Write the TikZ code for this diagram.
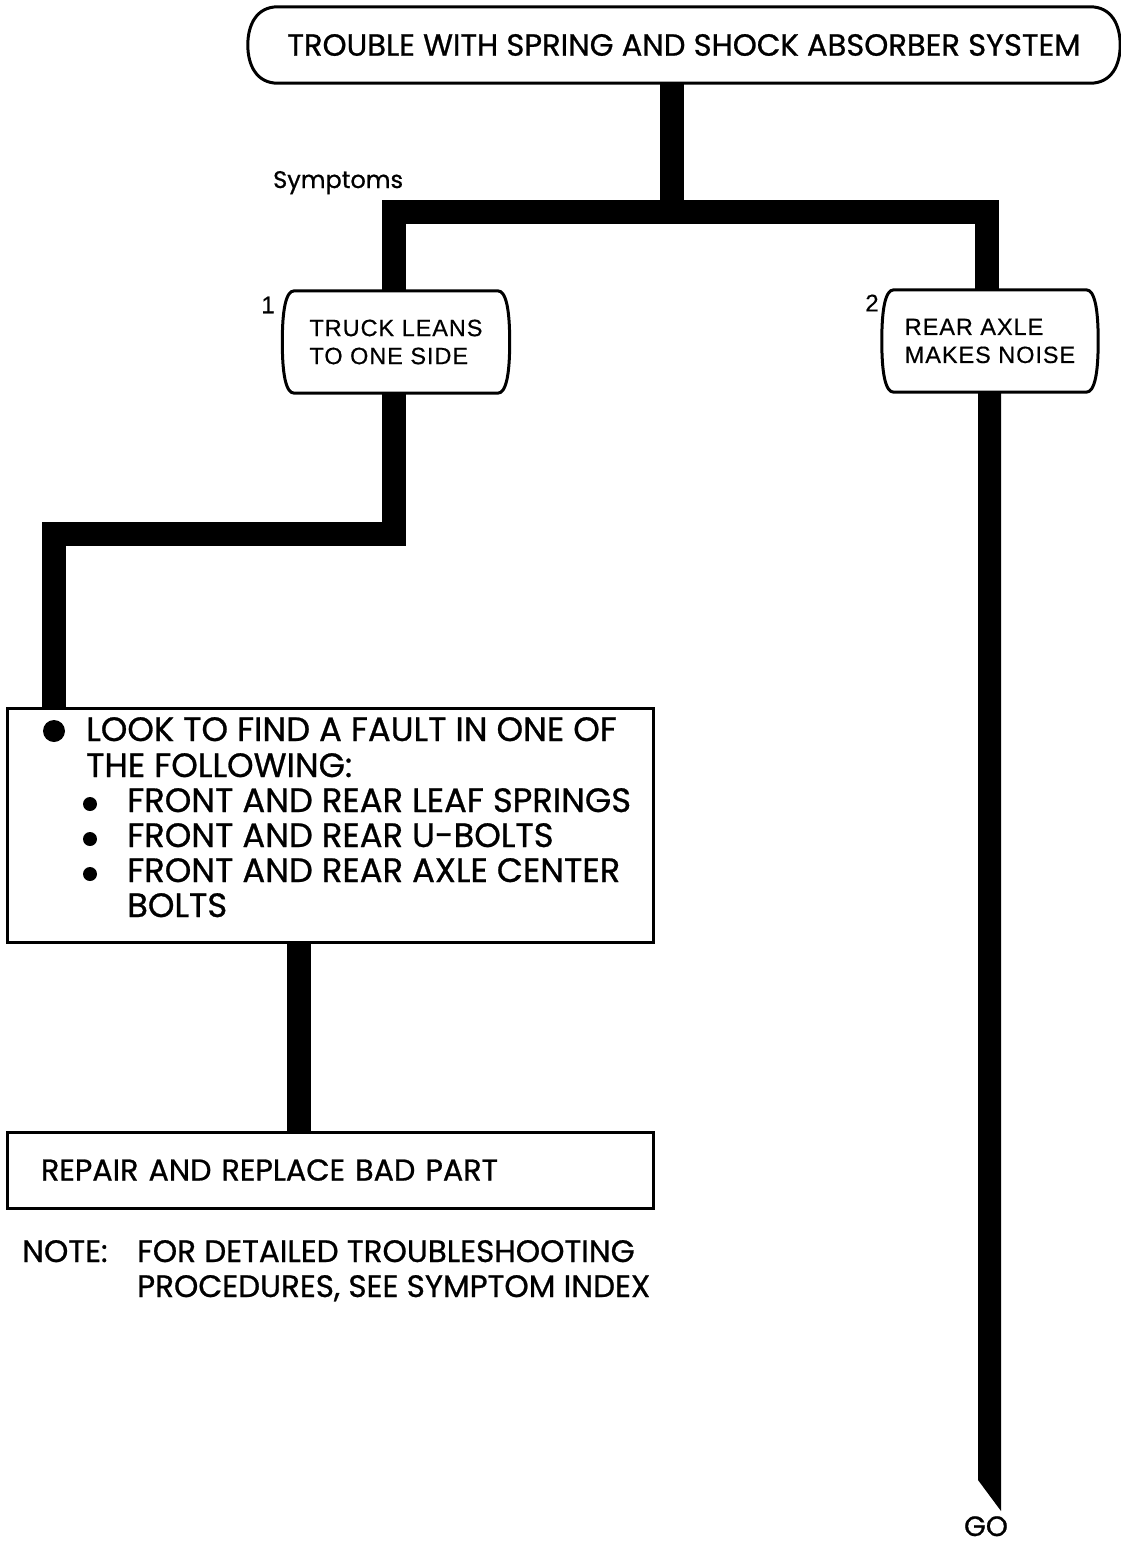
\documentclass[tikz,border=0pt]{standalone}
\usepackage{fontspec}
\setmainfont{Poppins}[FakeBold=0.8]
\newfontfamily\helvw{Liberation Sans}[LetterSpace=4.0, FakeBold=0.5]
\newfontfamily\helv{Liberation Sans}[FakeBold=0.5]
\usetikzlibrary{calc}
\tikzset{
  conn/.style={line width=24pt, line join=miter, line cap=butt},
  frame/.style={line width=3pt},
  titlefont/.style={font=\fontsize{30.6}{36}\selectfont},
  listfont/.style={font=\fontsize{33.8}{36}\selectfont, inner sep=0pt},
  notefont/.style={font=\fontsize{31}{35}\selectfont, inner sep=0pt},
  repfont/.style={font=\fontsize{30.2}{35}\selectfont, inner sep=0pt},
  sbox/.style={minimum width=216pt, minimum height=102pt, inner sep=0pt,
    align=left, font=\helvw\fontsize{23.5}{28}\selectfont},
  numfont/.style={font=\helv\fontsize{24}{24}\selectfont, inner sep=0pt},
  rbox/.style={draw, frame, minimum width=646pt, inner sep=0pt},
}
\newcommand\curvedoutline[3]{% node, corner inset, side handle
  \draw[frame] ($(#1.north west)+(#2,0)$) -- ($(#1.north east)+(-#2,0)$)
    .. controls ($(#1.north east)+(-#2/3.5,0)$) and ($(#1.east)+(0,-#3)$) .. (#1.east)
    .. controls ($(#1.east)+(0,#3)$) and ($(#1.south east)+(-#2/3.5,0)$) .. ($(#1.south east)+(-#2,0)$)
    -- ($(#1.south west)+(#2,0)$)
    .. controls ($(#1.south west)+(#2/3.5,0)$) and ($(#1.west)+(0,#3)$) .. (#1.west)
    .. controls ($(#1.west)+(0,-#3)$) and ($(#1.north west)+(#2/3.5,0)$) .. cycle;}
\begin{document}
\begin{tikzpicture}[x=1pt,y=-1pt]
\useasboundingbox (0,0) rectangle (1121,1548);
\fill[white] (0,0) rectangle (1121,1548);

% title
\node[titlefont, minimum width=872pt, minimum height=76pt, inner sep=0pt] (top) at (684,45)
  {TROUBLE WITH SPRING AND SHOCK ABSORBER SYSTEM};
\curvedoutline{top}{30}{20}

% symptoms
\node[anchor=base west, font=\fontsize{24}{24}\selectfont, inner sep=0pt] (sym) at (273,188) {Symptoms};
\node[sbox, minimum width=227pt] (s1) at (396,342) {TRUCK LEANS\\TO ONE SIDE};
\curvedoutline{s1}{12}{32}
\node[numfont] (n1) at (268,305) {1};
\node[sbox] (s2) at (990,341) {REAR AXLE\\MAKES NOISE};
\curvedoutline{s2}{12}{32}
\node[numfont] (n2) at (872,303) {2};

% junctions
\coordinate (j) at (672,212);
\coordinate (k) at (54,534);

% fault box
\node[rbox, minimum height=234pt] (b3) at (330,825) {};
\fill (54,731) circle[radius=11pt];
\node[listfont, anchor=base west] (t1) at (86,741) {LOOK TO FIND A FAULT IN ONE OF};
\node[listfont, anchor=base west] (t2) at (86,777) {THE FOLLOWING:};
\fill (90,804) circle[radius=7pt];
\fill (90,839) circle[radius=7pt];
\fill (90,874) circle[radius=7pt];
\node[listfont, anchor=base west] (t3) at (127,812) {FRONT AND REAR LEAF SPRINGS};
\node[listfont, anchor=base west] (t4) at (127,847) {FRONT AND REAR U-BOLTS};
\node[listfont, anchor=base west] (t5) at (127,882) {FRONT AND REAR AXLE CENTER};
\node[listfont, anchor=base west] (t6) at (127,917) {BOLTS};

% repair box
\node[rbox, repfont, minimum height=76pt, text width=578pt, inner xsep=34pt, align=left] (b4) at (330,1170)
  {REPAIR AND REPLACE BAD PART};

% note
\node[notefont, anchor=base west] (note) at (22,1262) {NOTE:};
\node[notefont, anchor=base west] (nt1) at (137,1262) {FOR DETAILED TROUBLESHOOTING};
\node[notefont, anchor=base west] (nt2) at (137,1297) {PROCEDURES, SEE SYMPTOM INDEX};

% GO
\node[font=\fontsize{28}{28}\selectfont, anchor=base, inner sep=0pt] (go) at (986,1536) {GO};
\coordinate (tip) at (1001,1511);

% connectors
\draw[conn] (top.south -| j) -- (j);
\draw[conn] ([xshift=-2pt]s1.north) |- (j) -| ([xshift=-3pt]s2.north);
\draw[conn] ([xshift=-2pt]s1.south) |- (k) -- (k |- b3.north);
\draw[conn] ([xshift=-31pt]b3.south) -- ([xshift=-31pt]b4.north);
\fill ([xshift=-12pt]s2.south) -- ([xshift=11pt]s2.south) -- (tip) -- ($(tip)+(-23,-31)$) -- cycle;
\end{tikzpicture}
\end{document}
